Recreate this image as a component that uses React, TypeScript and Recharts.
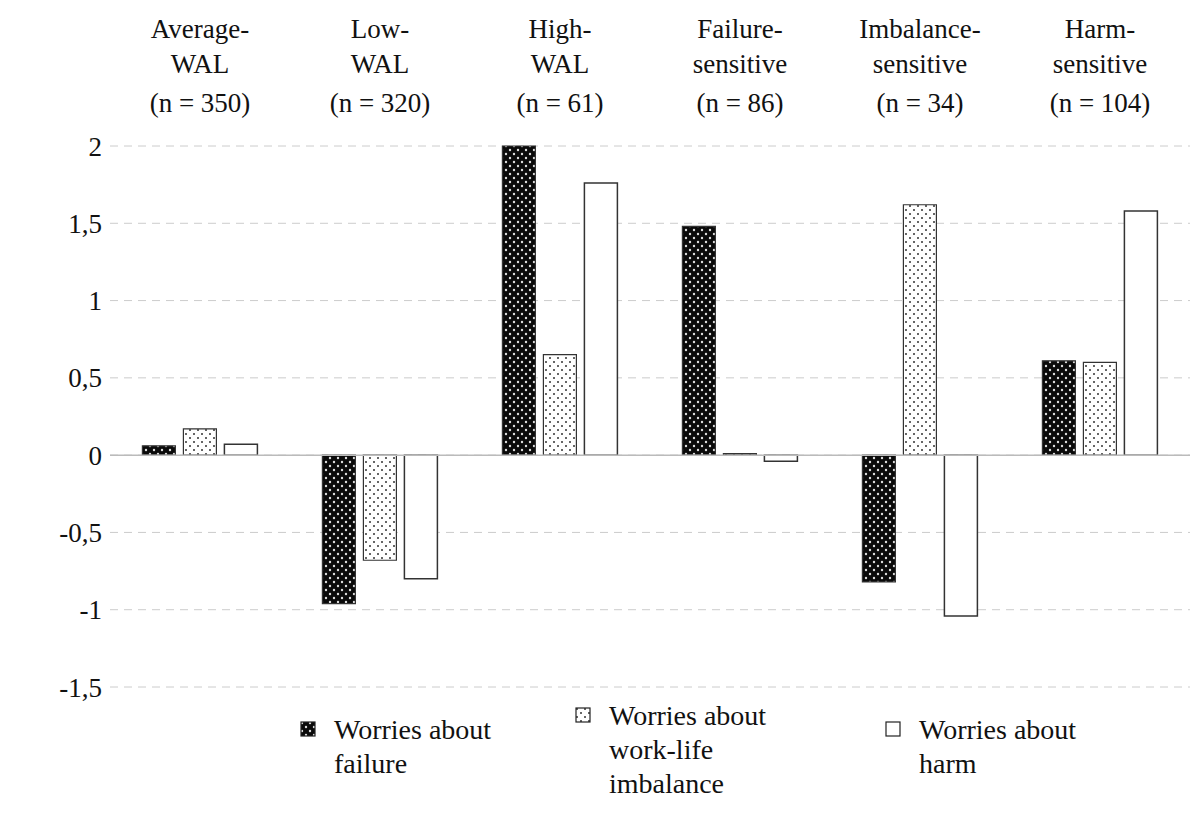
import React from 'react';
import { BarChart, Bar, XAxis, YAxis, CartesianGrid, Legend, ReferenceLine } from 'recharts';

const groups = ['Average-|WAL|(n = 350)', 'Low-|WAL|(n = 320)', 'High-|WAL|(n = 61)', 'Failure-|sensitive|(n = 86)', 'Imbalance-|sensitive|(n = 34)', 'Harm-|sensitive|(n = 104)'];
const failure = [0.06, -0.96, 2.0, 1.48, -0.82, 0.61];
const imbalance = [0.17, -0.68, 0.65, 0.01, 1.62, 0.6];
const harm = [0.07, -0.8, 1.76, -0.04, -1.04, 1.58];
const yTicks = [-1.5, -1, -0.5, 0, 0.5, 1, 1.5, 2];

const data = groups.map((g, i) => ({ name: g, failure: failure[i], imbalance: imbalance[i], harm: harm[i] }));

const font = 'Liberation Serif, Tinos, DejaVu Serif, serif';

const TopTick = (props: any) => {
  const { x, y, payload } = props;
  const lines = String(payload.value).split('|');
  const offs = [-100, -65, -26];
  return (
    <g>
      {lines.map((l, i) => (
        <text key={i} x={x} y={y + offs[i]} textAnchor="middle" style={{ fontFamily: font }} fontSize={27} fill="#111">{l}</text>
      ))}
    </g>
  );
};

const legendItems = [
  { label: ['Worries about', 'failure'], fill: 'url(#darkDots)', left: 280 },
  { label: ['Worries about', 'work-life', 'imbalance'], fill: 'url(#lightDots)', left: 555 },
  { label: ['Worries about', 'harm'], fill: '#fff', left: 865 },
];

const LegendContent = () => (
  <div style={{ position: 'relative', height: 120, fontFamily: font, fontSize: 28, color: '#111' }}>
    {legendItems.map((it, i) => (
      <div key={i} style={{ position: 'absolute', left: it.left, top: i === 1 ? 12 : 26, display: 'flex', alignItems: 'flex-start' }}>
        <svg width={16} height={16} style={{ marginTop: 8, marginRight: 18 }}>
          <rect x={1} y={1} width={14} height={14} fill={it.fill} stroke="#222" strokeWidth={1.2} />
        </svg>
        <div style={{ lineHeight: '34px' }}>{it.label.map((l, j) => <div key={j}>{l}</div>)}</div>
      </div>
    ))}
  </div>
);

export default function App() {
  return (
    <div style={{ position: 'absolute', left: 0, top: 0, background: '#fff' }}>
      <BarChart width={1200} height={827} data={data} margin={{ top: 0, right: 10, left: 20, bottom: 0 }}
        barCategoryGap="18%" barGap={8}>
        <defs>
          <pattern id="darkDots" width="8" height="8" patternUnits="userSpaceOnUse">
            <rect width="8" height="8" fill="#0a0a0a" />
            <circle cx="2" cy="2" r="1.2" fill="#ddd" />
            <circle cx="6" cy="6" r="1.2" fill="#ddd" />
          </pattern>
          <pattern id="lightDots" width="8" height="8" patternUnits="userSpaceOnUse">
            <rect width="8" height="8" fill="#fff" />
            <circle cx="2" cy="2" r="1" fill="#333" />
            <circle cx="6" cy="6" r="1" fill="#333" />
          </pattern>
        </defs>
        <CartesianGrid vertical={false} stroke="#ccc" strokeDasharray="8 6" />
        <XAxis dataKey="name" orientation="top" height={146} axisLine={false} tickLine={false} tick={<TopTick />} interval={0} />
        <YAxis domain={[-1.5, 2]} ticks={yTicks} width={90} axisLine={false} tickLine={false}
          tickFormatter={(v: number) => String(v).replace('.', ',')}
          tick={{ style: { fontFamily: font }, fontSize: 27, fill: '#111' }} />
        <ReferenceLine y={0} stroke="#bbb" strokeWidth={1.5} />
        <Bar dataKey="failure" fill="url(#darkDots)" stroke="#333" strokeWidth={1.2} isAnimationActive={false} />
        <Bar dataKey="imbalance" fill="url(#lightDots)" stroke="#333" strokeWidth={1.2} isAnimationActive={false} />
        <Bar dataKey="harm" fill="#fff" stroke="#333" strokeWidth={1.5} isAnimationActive={false} />
        <Legend verticalAlign="bottom" height={140} content={<LegendContent />} />
      </BarChart>
    </div>
  );
}
